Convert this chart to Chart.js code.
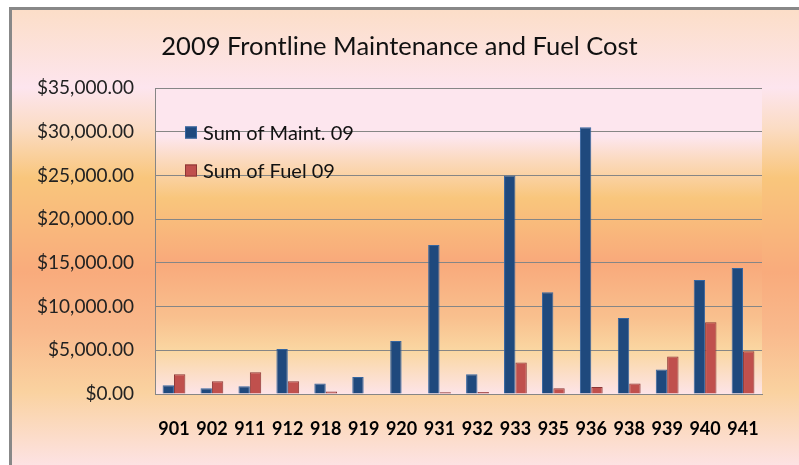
<!DOCTYPE html>
<html>
<head>
<meta charset="utf-8">
<script src="https://cdn.jsdelivr.net/npm/chart.js@4"></script>
<style>
  html, body { margin: 0; padding: 0; background: #fff; }
  #frame {
    position: absolute; left: 9px; top: 7px; width: 790px; height: 458px;
    border-top: 3px solid #888; border-left: 3px solid #888;
    background: linear-gradient(to bottom,
      #fcdec8 0px, #fde5ee 78px, #fbdcc4 118px, #f9c67c 168px,
      #f9ab7c 262px, #f9b98c 320px, #fad2a0 382px, #fde3e6 458px);
  }
  #chart { position: absolute; left: 0; top: 0; }
</style>
</head>
<body>
<div id="frame"></div>
<canvas id="chart" width="799" height="465"></canvas>
<script>
const units = ['901', '902', '911', '912', '918', '919', '920', '931', '932', '933', '935', '936', '938', '939', '940', '941'];
const maint09 = [1000, 650, 900, 5150, 1200, 1950, 6050, 17050, 2250, 25000, 11650, 30500, 8700, 2800, 13050, 14400];
const fuel09 = [2250, 1450, 2500, 1450, 300, 0, 0, 200, 230, 3600, 650, 800, 1200, 4300, 8200, 4900];
const yTickValues = [0, 5000, 10000, 15000, 20000, 25000, 30000, 35000];

const face = 'Lato, "DejaVu Sans Condensed", sans-serif';

// gradient fill behind the bars, only inside the plot area
const plotBackground = {
  id: 'plotBackground',
  beforeDraw(chart) {
    const { ctx, chartArea } = chart;
    const { left, right, top, bottom } = chartArea;
    const g = ctx.createLinearGradient(0, top, 0, bottom);
    g.addColorStop(0.00, '#fde6ee');
    g.addColorStop(0.16, '#fde6ee');
    g.addColorStop(0.24, '#fbd9bc');
    g.addColorStop(0.36, '#f9c67c');
    g.addColorStop(0.57, '#f9a97b');
    g.addColorStop(0.75, '#f9c08e');
    g.addColorStop(0.86, '#fad7a2');
    g.addColorStop(1.00, '#fde4e8');
    ctx.save();
    ctx.fillStyle = g;
    ctx.fillRect(left, top, right - left, bottom - top);
    ctx.restore();
  }
};

// legend sits inside the plot, top left, stacked
const insideLegend = {
  id: 'insideLegend',
  afterDraw(chart) {
    const { ctx } = chart;
    const { left, top } = chart.chartArea;
    ctx.save();
    ctx.font = '20px ' + face;
    ctx.textBaseline = 'middle';
    chart.data.datasets.forEach((ds, i) => {
      const x = left + 30;
      const y = top + 44.5 + i * 38;
      ctx.fillStyle = ds.backgroundColor;
      ctx.fillRect(x, y - 6, 12, 12);
      ctx.strokeStyle = ds.borderColor;
      ctx.lineWidth = 1;
      ctx.strokeRect(x + 0.5, y - 5.5, 11, 11);
      ctx.fillStyle = '#111';
      ctx.fillText(ds.label, x + 18, y + 1);
    });
    ctx.restore();
  }
};

const fmtMoney = v => '$' + Number(v).toLocaleString('en-US', { minimumFractionDigits: 2, maximumFractionDigits: 2 });

new Chart(document.getElementById('chart').getContext('2d'), {
  type: 'bar',
  data: {
    labels: units,
    datasets: [
      {
        label: 'Sum of Maint. 09',
        data: maint09,
        backgroundColor: '#1f497d',
        borderColor: '#3565a0',
        borderWidth: 1
      },
      {
        label: 'Sum of Fuel 09',
        data: fuel09,
        backgroundColor: '#c0504d',
        borderColor: '#8c3634',
        borderWidth: 1
      }
    ]
  },
  options: {
    responsive: false,
    animation: false,
    layout: { padding: 0 },
    datasets: {
      bar: { categoryPercentage: 0.6, barPercentage: 1.0 }
    },
    plugins: {
      legend: { display: false },
      tooltip: { enabled: false },
      title: {
        display: true,
        text: '2009 Frontline Maintenance and Fuel Cost',
        color: '#111',
        font: { family: face, size: 25.5, weight: 'normal', lineHeight: 1.2 },
        padding: { top: 31, bottom: 26.4 }
      }
    },
    scales: {
      x: {
        grid: { display: false, drawTicks: false },
        border: { display: true, color: '#868686', width: 1 },
        ticks: {
          color: '#000',
          font: { family: face, size: 18, weight: 'bold' },
          padding: 24,
          maxRotation: 0,
          autoSkip: false
        },
        afterFit(scale) { scale.height = 71; }
      },
      y: {
        min: 0,
        max: 35000,
        afterBuildTicks(scale) { scale.ticks = yTickValues.map(v => ({ value: v })); },
        grid: { color: '#868686', lineWidth: 1, drawTicks: false },
        border: { display: true, color: '#868686', width: 1 },
        ticks: {
          color: '#222',
          font: { family: face, size: 19 },
          padding: 21,
          callback: v => fmtMoney(v)
        },
        afterFit(scale) { scale.width = 155; }
      },
      // empty strip on the right so the title stays centred on the whole frame
      spacer: {
        position: 'right',
        min: 0,
        max: 1,
        grid: { display: false, drawTicks: false },
        border: { display: false },
        ticks: { display: false },
        afterFit(scale) { scale.width = 37; }
      }
    }
  },
  plugins: [plotBackground, insideLegend]
});
</script>
</body>
</html>
